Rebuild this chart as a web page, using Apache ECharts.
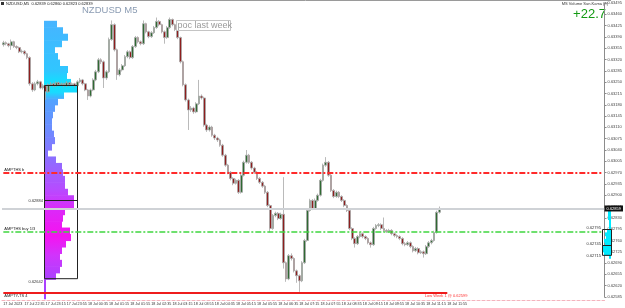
<!DOCTYPE html>
<html><head><meta charset="utf-8">
<script src="https://cdn.jsdelivr.net/npm/echarts/dist/echarts.min.js"></script>
<style>html,body{margin:0;padding:0;background:#fff}#c{width:625px;height:308px}</style>
</head><body><div id="c"></div>
<script>
// ---------- data ----------
const symbolInfo = 'NZDUSD,M5  0.62839 0.62860 0.62823 0.62839';
const chartTitle = 'NZDUSD M5';
const indicatorName = 'MS Volume Sun.Kama (§)';
const indicatorValue = '+22.7';
const pocText = 'poc last week';

const timeLabels = ['17 Jul 2023','17 Jul 22:35','17 Jul 23:15','17 Jul 23:55','18 Jul 00:35','18 Jul 01:15',
  '18 Jul 01:55','18 Jul 02:35','18 Jul 03:15','18 Jul 03:55','18 Jul 04:35','18 Jul 05:15','18 Jul 05:55',
  '18 Jul 06:35','18 Jul 07:15','18 Jul 07:55','18 Jul 08:35','18 Jul 09:15','18 Jul 09:55','18 Jul 10:35',
  '18 Jul 11:15','18 Jul 11:55'];
const LABEL_EVERY = 8;
const TOTAL_SLOTS = 228;

const priceTicks = [0.62585,0.62620,0.62655,0.62690,0.62725,0.62760,0.62795,0.62830,0.62865,0.62900,0.62935,
  0.62970,0.63005,0.63040,0.63075,0.63110,0.63145,0.63180,0.63215,0.63250,0.63285,0.63320,0.63355,0.63390,
  0.63425,0.63460,0.63495];

// [open, close, low, high]
const candles = [
[0.63366,0.63372,0.63360,0.63378],[0.63372,0.63369,0.63364,0.63376],[0.63369,0.63363,0.63358,0.63372],
[0.63363,0.63375,0.63350,0.63382],[0.63375,0.63360,0.63356,0.63378],[0.63360,0.63357,0.63352,0.63364],
[0.63357,0.63344,0.63340,0.63360],[0.63344,0.63346,0.63339,0.63351],[0.63346,0.63338,0.63333,0.63349],
[0.63338,0.63326,0.63321,0.63341],[0.63326,0.63245,0.63239,0.63330],[0.63245,0.63226,0.63220,0.63250],
[0.63226,0.63245,0.63222,0.63251],[0.63245,0.63251,0.63240,0.63257],[0.63251,0.63232,0.63228,0.63254],
[0.63232,0.63239,0.63227,0.63245],[0.63239,0.63220,0.63195,0.63243],[0.63220,0.63242,0.63216,0.63246],
[0.63242,0.63245,0.63237,0.63250],[0.63245,0.63239,0.63234,0.63249],[0.63239,0.63248,0.63235,0.63252],
[0.63248,0.63242,0.63238,0.63252],[0.63242,0.63245,0.63238,0.63249],[0.63245,0.63239,0.63234,0.63248],
[0.63239,0.63248,0.63235,0.63253],[0.63248,0.63242,0.63237,0.63251],[0.63242,0.63245,0.63238,0.63249],
[0.63245,0.63239,0.63233,0.63248],[0.63239,0.63251,0.63236,0.63256],[0.63251,0.63257,0.63247,0.63263],
[0.63257,0.63245,0.63240,0.63260],[0.63245,0.63226,0.63222,0.63248],[0.63226,0.63207,0.63195,0.63229],
[0.63207,0.63226,0.63203,0.63230],[0.63226,0.63257,0.63222,0.63262],[0.63257,0.63282,0.63253,0.63288],
[0.63282,0.63319,0.63278,0.63325],[0.63319,0.63313,0.63306,0.63324],[0.63313,0.63263,0.63232,0.63317],
[0.63263,0.63282,0.63257,0.63287],[0.63282,0.63382,0.63278,0.63388],[0.63382,0.63428,0.63378,0.63441],
[0.63428,0.63350,0.63345,0.63432],[0.63350,0.63273,0.63257,0.63354],[0.63273,0.63288,0.63268,0.63293],
[0.63288,0.63301,0.63283,0.63306],[0.63301,0.63329,0.63297,0.63334],[0.63329,0.63344,0.63324,0.63349],
[0.63344,0.63326,0.63321,0.63348],[0.63326,0.63360,0.63322,0.63365],[0.63360,0.63388,0.63356,0.63393],
[0.63388,0.63375,0.63370,0.63392],[0.63375,0.63369,0.63364,0.63379],[0.63369,0.63431,0.63365,0.63441],
[0.63431,0.63406,0.63401,0.63434],[0.63406,0.63391,0.63386,0.63409],[0.63391,0.63403,0.63387,0.63408],
[0.63403,0.63419,0.63399,0.63424],[0.63419,0.63438,0.63415,0.63450],[0.63438,0.63428,0.63423,0.63442],
[0.63428,0.63406,0.63401,0.63431],[0.63406,0.63388,0.63369,0.63410],[0.63388,0.63419,0.63384,0.63424],
[0.63419,0.63444,0.63415,0.63450],[0.63444,0.63428,0.63423,0.63447],[0.63428,0.63413,0.63408,0.63431],
[0.63413,0.63388,0.63383,0.63416],[0.63388,0.63313,0.63308,0.63391],[0.63313,0.63242,0.63237,0.63317],
[0.63242,0.63195,0.63190,0.63246],[0.63195,0.63164,0.63102,0.63199],[0.63164,0.63170,0.63158,0.63176],
[0.63170,0.63158,0.63152,0.63174],[0.63158,0.63183,0.63154,0.63188],[0.63183,0.63207,0.63179,0.63257],
[0.63207,0.63201,0.63196,0.63212],[0.63201,0.63117,0.63112,0.63205],[0.63117,0.63102,0.63096,0.63121],
[0.63102,0.63111,0.63097,0.63116],[0.63111,0.63086,0.63081,0.63115],[0.63086,0.63077,0.63071,0.63090],
[0.63077,0.63071,0.63065,0.63081],[0.63071,0.63055,0.63050,0.63075],[0.63055,0.63024,0.63019,0.63059],
[0.63024,0.62993,0.62988,0.63028],[0.62993,0.62971,0.62965,0.62997],[0.62971,0.62952,0.62946,0.62975],
[0.62952,0.62937,0.62931,0.62956],[0.62937,0.62946,0.62933,0.62951],[0.62946,0.62909,0.62904,0.62950],
[0.62909,0.62962,0.62905,0.62967],[0.62962,0.63002,0.62958,0.63007],[0.63002,0.63024,0.62998,0.63040],
[0.63024,0.63002,0.62997,0.63028],[0.63002,0.62984,0.62979,0.63006],[0.62984,0.62971,0.62966,0.62988],
[0.62971,0.62952,0.62947,0.62975],[0.62952,0.62940,0.62935,0.62956],[0.62940,0.62928,0.62923,0.62944],
[0.62928,0.62909,0.62904,0.62932],[0.62909,0.62868,0.62863,0.62913],[0.62868,0.62797,0.62785,0.62872],
[0.62797,0.62837,0.62793,0.62842],[0.62837,0.62844,0.62832,0.62849],[0.62844,0.62828,0.62823,0.62848],
[0.62828,0.62841,0.62824,0.62846],[0.62841,0.62691,0.62673,0.62956],[0.62691,0.62641,0.62632,0.62695],
[0.62641,0.62713,0.62637,0.62718],[0.62713,0.62704,0.62698,0.62720],[0.62704,0.62666,0.62661,0.62708],
[0.62666,0.62651,0.62629,0.62670],[0.62651,0.62635,0.62601,0.62655],[0.62635,0.62691,0.62631,0.62696],
[0.62691,0.62760,0.62687,0.62765],[0.62760,0.62853,0.62756,0.62858],[0.62853,0.62884,0.62849,0.62889],
[0.62884,0.62859,0.62854,0.62888],[0.62859,0.62884,0.62855,0.62890],[0.62884,0.62900,0.62880,0.62905],
[0.62900,0.62946,0.62896,0.62951],[0.62946,0.62993,0.62942,0.62998],[0.62993,0.63002,0.62988,0.63018],
[0.63002,0.62962,0.62957,0.63006],[0.62962,0.62915,0.62910,0.62966],[0.62915,0.62896,0.62891,0.62919],
[0.62896,0.62909,0.62892,0.62914],[0.62909,0.62896,0.62891,0.62913],[0.62896,0.62884,0.62879,0.62900],
[0.62884,0.62868,0.62863,0.62888],[0.62868,0.62853,0.62848,0.62872],[0.62853,0.62797,0.62792,0.62857],
[0.62797,0.62766,0.62761,0.62801],[0.62766,0.62750,0.62738,0.62770],[0.62750,0.62772,0.62746,0.62777],
[0.62772,0.62781,0.62767,0.62786],[0.62781,0.62772,0.62767,0.62785],[0.62772,0.62766,0.62761,0.62776],
[0.62766,0.62753,0.62748,0.62770],[0.62753,0.62747,0.62738,0.62757],[0.62747,0.62797,0.62743,0.62802],
[0.62797,0.62806,0.62793,0.62811],[0.62806,0.62809,0.62801,0.62814],[0.62809,0.62797,0.62792,0.62813],
[0.62797,0.62791,0.62786,0.62831],[0.62791,0.62788,0.62783,0.62795],[0.62788,0.62791,0.62784,0.62796],
[0.62791,0.62781,0.62776,0.62795],[0.62781,0.62775,0.62770,0.62785],[0.62775,0.62772,0.62767,0.62779],
[0.62772,0.62766,0.62761,0.62776],[0.62766,0.62750,0.62745,0.62770],[0.62750,0.62747,0.62742,0.62755],
[0.62747,0.62753,0.62743,0.62758],[0.62753,0.62741,0.62736,0.62757],[0.62741,0.62728,0.62723,0.62745],
[0.62728,0.62735,0.62724,0.62740],[0.62735,0.62722,0.62717,0.62739],[0.62722,0.62725,0.62718,0.62730],
[0.62725,0.62719,0.62707,0.62729],[0.62719,0.62741,0.62715,0.62746],[0.62741,0.62753,0.62737,0.62758],
[0.62753,0.62760,0.62748,0.62765],[0.62760,0.62785,0.62756,0.62790],[0.62785,0.62847,0.62781,0.62852],
[0.62847,0.62859,0.62843,0.62865]
];

// left volume profile (price level, volume)
const profileStep = 0.0002;
const profilePrices = [0.6343,0.6341,0.6339,0.6337,0.6335,0.6333,0.6331,0.6329,0.6327,0.6325,0.6323,0.6321,
  0.6319,0.6317,0.6315,0.6313,0.6311,0.6309,0.6307,0.6305,0.6303,0.6301,0.6299,0.6297,0.6295,0.6293,0.6291,
  0.6289,0.6287,0.6285,0.6283,0.6281,0.6279,0.6277,0.6275,0.6273,0.6271,0.6269,0.6267,0.6265,0.6263,0.6261,0.6259];
const profileVolumes = [13,19,24,18,11,14,16,24,23,27,34,20,14,11,9,8,8,10,11,8,4,12,18,19,21,21,24,30,30,21,
  19,18,26,27,22,18,16,18,16,12,2,2,2];
const vaBox = {volume: 33, top: 0.63240, mid: 0.62884, bottom: 0.62642};

// right (session) profile
const rightStep = 0.0001;
const rightPrices = [0.6285,0.6284,0.6283,0.6282,0.6281,0.6280,0.6279,0.6278,0.6277,0.6276,0.6275,0.6274,0.6273,0.6272,0.6271];
const rightVolumes = [3,3,3,2,2,2,4,6,5,7,6,8,8,7,2];
const rightBox = {volume: 9, top: 0.62795, mid: 0.62745, bottom: 0.62715};

// horizontal levels
const levelRed = 0.62969;
const levelGreen = 0.62786;
const bidPrice = 0.62859;
const lowWeek = 0.62599;
const lowWeekEndSlot = 168;
const lowWeekLabelEndSlot = 176;
const redLabel = 'AMPTHS b';
const greenLabel = 'AMPTHS buy 1/3';
const lowLabel = 'AMPTY-TS 4';
const lowWeekText = 'Low Week 1 @ 0.62599';

// ---------- chart ----------
const Y_MIN = priceTicks[0], Y_MAX = priceTicks[priceTicks.length - 1];
const FONT = 'Liberation Sans, Arial, sans-serif';
const slots = Array.from({length: TOTAL_SLOTS}, (_, i) => 't' + i);
const firstSlot = slots[0], lastSlot = slots[TOTAL_SLOTS - 1];

function profileRender(step, stops, topP, botP) {
  return function (params, api) {
    const vol = api.value(0), price = api.value(1);
    const a = api.coord([0, price + step / 2]);
    const b = api.coord([vol, price - step / 2]);
    const x = Math.min(a[0], b[0]);
    const w = Math.abs(b[0] - a[0]);
    let fill = stops;
    if (Array.isArray(stops)) {
      const y0 = api.coord([0, topP])[1], y1 = api.coord([0, botP])[1];
      fill = new echarts.graphic.LinearGradient(0, y0, 0, y1, stops, true);
    }
    return {type: 'rect', shape: {x: x, y: a[1], width: w, height: b[1] - a[1] + 0.6}, style: {fill: fill}};
  };
}

function boxRender(labelSide) {
  return function (params, api) {
    const vol = api.value(0);
    const tl = api.coord([0, api.value(1)]);
    const m = api.coord([0, api.value(2)]);
    const bl = api.coord([0, api.value(3)]);
    const tr = api.coord([vol, api.value(1)]);
    const x0 = Math.min(tl[0], tr[0]), x1 = Math.max(tl[0], tr[0]);
    const st = {stroke: '#222', lineWidth: 1, fill: null};
    const kids = [
      {type: 'rect', shape: {x: Math.round(x0) + 0.5, y: Math.round(tl[1]) + 0.5, width: x1 - x0, height: bl[1] - tl[1]}, style: st},
      {type: 'line', shape: {x1: x0, y1: Math.round(m[1]) + 0.5, x2: x1, y2: Math.round(m[1]) + 0.5}, style: {stroke: '#222', lineWidth: 1}}
    ];
    const tx = x0 - 1;
    const lab = (txt, y) => ({type: 'text', style: {text: txt, x: tx, y: y, fill: '#333', font: '4px ' + FONT, align: 'right', verticalAlign: 'middle'}});
    if (labelSide === 'left') {
      kids.push(lab(api.value(2).toFixed(5), m[1]));
      kids.push(lab(api.value(3).toFixed(5), bl[1] + 3));
    } else {
      kids.push(lab(api.value(1).toFixed(5), tl[1] - 1.5));
      kids.push(lab(api.value(2).toFixed(5), m[1] - 1.5));
      kids.push(lab(api.value(3).toFixed(5), bl[1] + 0.5));
    }
    return {type: 'group', children: kids};
  };
}

const profileStops = [
  {offset: 0, color: '#47b4ff'}, {offset: 0.18, color: '#30c6ff'}, {offset: 0.232, color: '#0ce4ff'},
  {offset: 0.258, color: '#1adaff'}, {offset: 0.286, color: '#52a2ff'}, {offset: 0.395, color: '#6e8bff'},
  {offset: 0.503, color: '#8f6cff'}, {offset: 0.611, color: '#b84aff'}, {offset: 0.683, color: '#dc28f8'},
  {offset: 0.773, color: '#f612f0'}, {offset: 0.845, color: '#d034fc'}, {offset: 0.917, color: '#b040ff'},
  {offset: 1, color: '#a040ff'}
];
const profTop = profilePrices[0] + profileStep / 2;
const profBot = profilePrices[profilePrices.length - 1] - profileStep / 2;

const hiddenValueY = (idx) => ({type: 'value', gridIndex: idx, min: Y_MIN, max: Y_MAX, show: false});
const smallLabel = (txt, pos, color) => ({show: true, position: pos, formatter: txt, fontSize: 4, color: color || '#222', distance: 1, fontFamily: FONT});

// one empty helper series per horizontal level, so each keeps its own colour
function levelSeries(name, color, width, type, items) {
  return {type: 'line', name: name, xAxisIndex: 0, yAxisIndex: 0, data: [], z: 2, silent: true,
    color: color,
    markLine: {silent: true, symbol: ['none', 'none'], animation: false, precision: 5,
      lineStyle: {color: color, width: width, type: type, opacity: 1},
      data: items}};
}
const spanLine = (value, label) => [{coord: [firstSlot, value], label: label}, {coord: [lastSlot, value]}];

const option = {
  animation: false,
  backgroundColor: '#ffffff',
  textStyle: {fontFamily: FONT},
  grid: [
    {left: 2, right: 14, top: 3, bottom: 11},
    {left: 44, width: 100, top: 3, bottom: 11},
    {right: 14, width: 20, top: 3, bottom: 11}
  ],
  xAxis: [
    {type: 'category', gridIndex: 0, data: slots, boundaryGap: true, offset: 3,
     axisLine: {show: true, lineStyle: {color: '#f4b3bd', type: [3, 2], width: 1}},
     axisTick: {show: false},
     axisLabel: {show: true, interval: (i) => i % LABEL_EVERY === 0 && i / LABEL_EVERY < timeLabels.length,
       formatter: (v, i) => timeLabels[i / LABEL_EVERY] || '', fontSize: 3.7, color: '#333', align: 'left', margin: 1.5,
       fontFamily: FONT},
     splitLine: {show: false}},
    {type: 'value', gridIndex: 1, min: 0, max: 100, show: false},
    {type: 'value', gridIndex: 2, min: 0, max: 20, inverse: true, show: false}
  ],
  yAxis: [
    {type: 'value', gridIndex: 0, position: 'right', min: Y_MIN, max: Y_MAX, scale: true,
     axisLine: {show: true, lineStyle: {color: '#8c8c8c', width: 1}},
     axisTick: {show: true, length: 2, lineStyle: {color: '#8c8c8c'}, customValues: priceTicks},
     axisLabel: {show: true, customValues: priceTicks, formatter: (v) => v.toFixed(5), fontSize: 4, color: '#444',
       margin: 3, fontFamily: FONT},
     splitLine: {show: false}},
    hiddenValueY(1),
    hiddenValueY(2)
  ],
  series: [
    {type: 'custom', name: 'profile', xAxisIndex: 1, yAxisIndex: 1, silent: true, z: 1,
     data: profilePrices.map((p, i) => [profileVolumes[i], p]),
     renderItem: profileRender(profileStep, profileStops, profTop, profBot)},
    {type: 'custom', name: 'rightProfile', xAxisIndex: 2, yAxisIndex: 2, silent: true, z: 1,
     data: rightPrices.map((p, i) => [rightVolumes[i], p]),
     renderItem: profileRender(rightStep, '#00eaff', 0, 0)},
    levelSeries('bid', '#cfd2d6', 2, 'solid', [
      {yAxis: bidPrice,
       label: {show: true, position: 'end', formatter: bidPrice.toFixed(5), fontSize: 4, color: '#fff',
         backgroundColor: '#111', padding: [1, 2, 1, 2], distance: 0, fontFamily: FONT}}]),
    levelSeries('redLevel', '#ff2a2a', 2, [6, 2, 2, 2], [
      spanLine(levelRed, smallLabel(redLabel, 'insideStartTop'))]),
    levelSeries('greenLevel', '#3fd63f', 1.5, [6, 2, 2, 2], [
      spanLine(levelGreen, smallLabel(greenLabel, 'insideStartTop'))]),
    levelSeries('lowWeek', '#ee1c1c', 2, 'solid', [
      [{coord: [firstSlot, lowWeek], label: smallLabel(lowLabel, 'insideStartBottom')},
       {coord: ['t' + lowWeekEndSlot, lowWeek]}]]),
    levelSeries('lowWeekLabel', 'rgba(0,0,0,0)', 1, 'solid', [
      [{coord: ['t' + (lowWeekEndSlot - 20), lowWeek], label: smallLabel(lowWeekText, 'insideEndBottom', '#ff3030')},
       {coord: ['t' + lowWeekLabelEndSlot, lowWeek]}]]),
    {type: 'candlestick', name: 'NZDUSD', xAxisIndex: 0, yAxisIndex: 0, z: 3, barWidth: 2.2,
     data: candles,
     itemStyle: {color: '#2f6a33', color0: '#8e1e1e', borderColor: '#a8a8a8', borderColor0: '#a8a8a8', borderWidth: 0.8}},
    {type: 'custom', name: 'vaBox', xAxisIndex: 1, yAxisIndex: 1, silent: true, z: 4,
     data: [[vaBox.volume, vaBox.top, vaBox.mid, vaBox.bottom]],
     renderItem: boxRender('left')},
    {type: 'custom', name: 'rightBox', xAxisIndex: 2, yAxisIndex: 2, silent: true, z: 4,
     data: [[rightBox.volume, rightBox.top, rightBox.mid, rightBox.bottom]],
     renderItem: boxRender('right')}
  ],
  graphic: [
    {type: 'line', shape: {x1: 0, y1: 0.5, x2: 611, y2: 0.5}, style: {stroke: '#9a9a9a', lineWidth: 1}, silent: true},
    {type: 'rect', shape: {x: 1, y: 2, width: 3, height: 3}, style: {fill: '#333'}, silent: true},
    {type: 'text', style: {text: symbolInfo, x: 6, y: 1.5, fill: '#222', font: '4px ' + FONT}, silent: true},
    {type: 'text', style: {text: chartTitle, x: 82, y: 5, fill: '#8b9cb3', font: '9.5px ' + FONT}, silent: true},
    {type: 'text', style: {text: indicatorName, x: 608, y: 1.5, fill: '#333', font: '4px ' + FONT, align: 'right'}, silent: true},
    {type: 'text', style: {text: indicatorValue, x: 606, y: 8, fill: '#139a13', font: '13px ' + FONT, align: 'right'}, silent: true},
    {type: 'rect', shape: {x: 176.5, y: 20.5, width: 54, height: 10}, style: {fill: '#fff', stroke: '#c4c4c4', lineWidth: 1}, silent: true, z: 10},
    {type: 'text', style: {text: pocText, x: 177.5, y: 21, fill: '#9a9a9a', font: '9px ' + FONT}, silent: true, z: 11}
  ]
};

const chart = echarts.init(document.getElementById('c'), null, {renderer: 'canvas'});
chart.setOption(option);
</script>
</body></html>
